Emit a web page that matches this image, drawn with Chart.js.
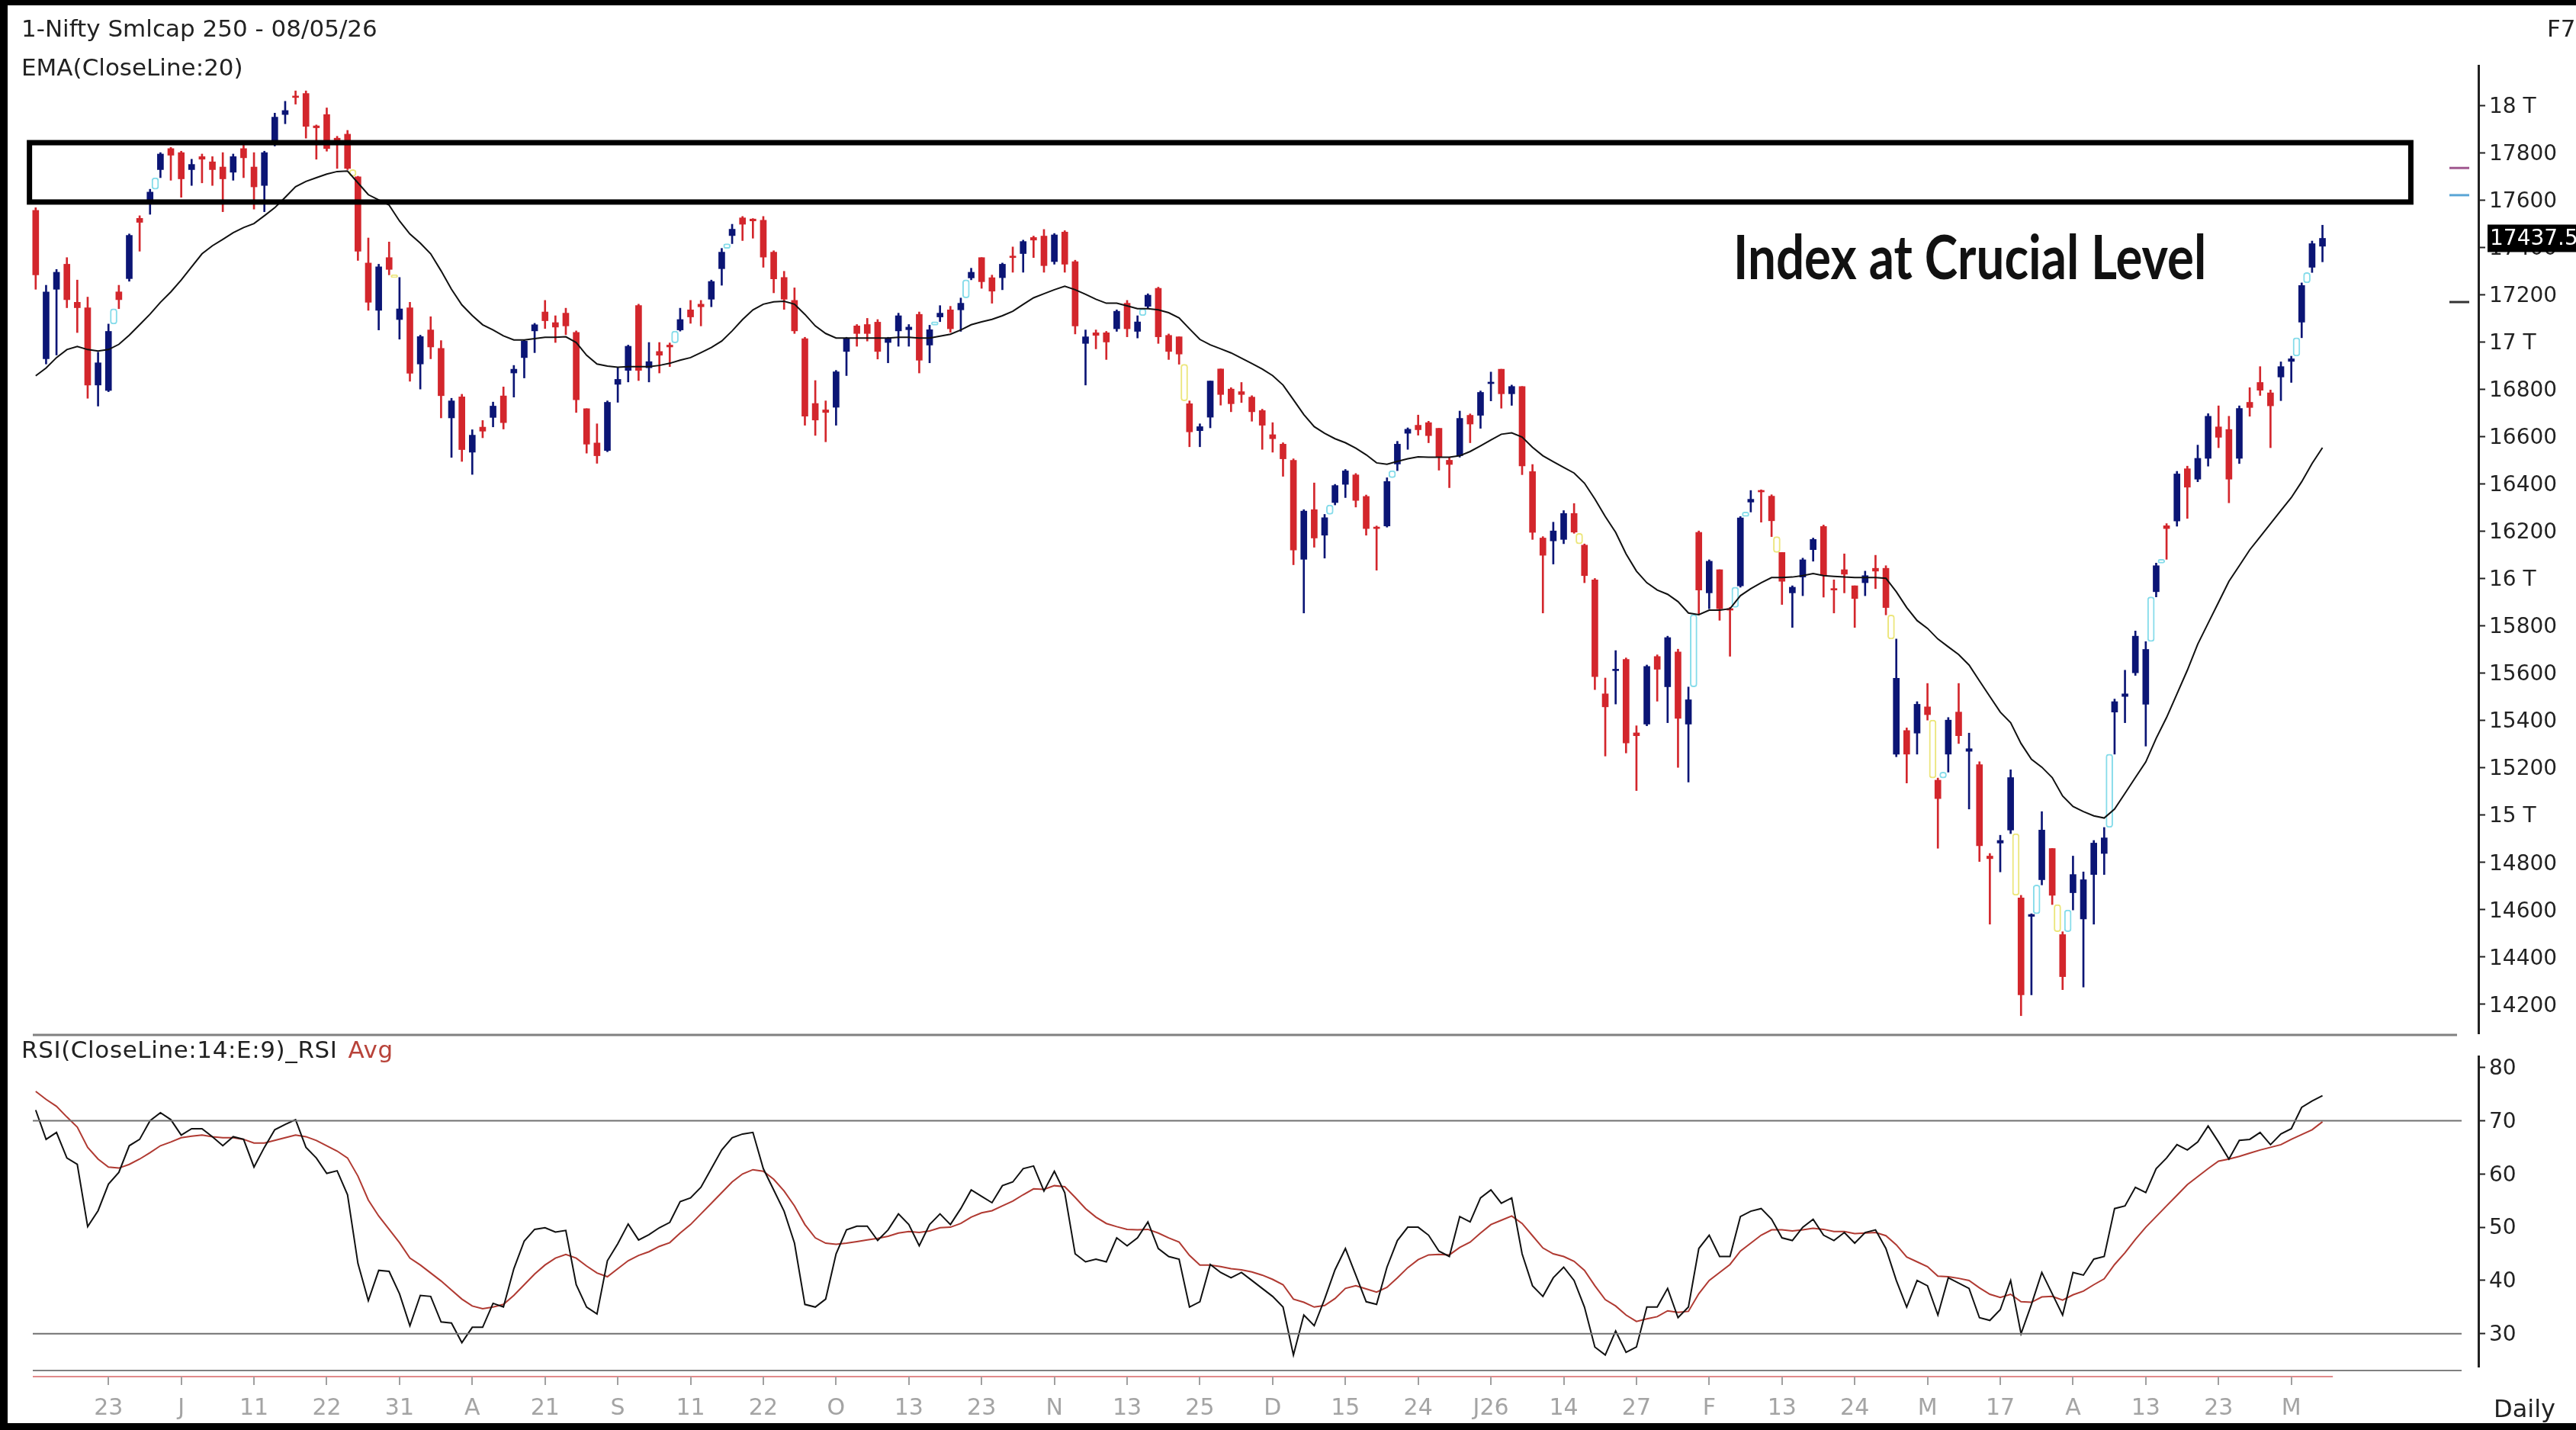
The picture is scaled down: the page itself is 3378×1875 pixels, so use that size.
<!DOCTYPE html>
<html>
<head>
<meta charset="utf-8">
<title>Nifty Smlcap 250 - Daily</title>
<script src="https://cdn.jsdelivr.net/npm/chart.js@4.4.1/dist/chart.umd.min.js"></script>
<style>
  html, body { margin: 0; padding: 0; background: #fff; }
  #wrap { position: relative; width: 3378px; height: 1875px; overflow: hidden; background: #fff; }
  #chart { position: absolute; left: 0; top: 0; }
  .lbl { position: absolute; font-family: 'DejaVu Sans', Verdana, sans-serif; font-size: 31px; line-height: 1; color: #222; white-space: nowrap; }
  #headline { font-family: Lato, 'Open Sans', sans-serif; font-weight: 700; font-size: 80px; color: #111; transform-origin: 0 0; }
</style>
</head>
<body>
<div id="wrap">
  <canvas id="chart" width="3378" height="1875"></canvas>
  <div class="lbl" style="left:28px;top:22px">1-Nifty Smlcap 250 - 08/05/26</div>
  <div class="lbl" style="left:28px;top:73px">EMA(CloseLine:20)</div>
  <div class="lbl" style="left:3340px;top:22px">F7</div>
  <div class="lbl" style="left:28px;top:1361px;letter-spacing:0.6px">RSI(CloseLine:14:E:9)_RSI<span style="color:#b8433a;margin-left:14px">Avg</span></div>
  <div class="lbl" style="left:3270px;top:1831px;font-size:32px">Daily</div>
  <div class="lbl" id="headline" style="left:2273px;top:295px">Index at Crucial Level</div>
</div>
<script>
// daily candles, one entry per trading session (Jun 2025 - May 2026)
const open = [
  17556,16928,17222,17328,17167,17144,16817,16794,17211,17267,17522,17600,17728,17817,17800,17728,17783,17761,17739,17717,
  17817,17739,17661,17844,17961,18039,18050,17913,17961,17861,17878,17698,17333,17133,17356,17094,17144,16906,17050,16972,
  16678,16767,16533,16639,16680,16771,16868,16933,17046,17126,17081,17121,17040,16717,16572,16540,16820,16879,17153,16890,
  16959,16986,17050,17135,17159,17180,17309,17449,17524,17519,17514,17379,17272,17175,17013,16739,16712,16723,16959,17067,
  17073,17083,16997,17046,17051,17116,16986,17105,17135,17135,17270,17356,17271,17271,17362,17373,17441,17447,17339,17464,
  17339,16993,17038,17038,17055,17163,17044,17150,17226,17027,17021,16738,16624,16681,16885,16800,16789,16766,16709,16607,
  16567,16499,16080,16290,16182,16320,16397,16437,16346,16216,16221,16483,16613,16647,16658,16634,16499,16518,16689,16689,
  16823,16884,16780,16811,16451,16170,16158,16164,16274,16140,15993,15511,15609,15657,15346,15383,15669,15541,15688,15383,
  16194,15938,16036,15871,15968,16322,16371,16347,16109,15938,16005,16121,16219,15956,16036,15968,15981,16042,16042,15256,
  15356,15345,15456,15146,15256,15434,15268,15212,14825,14880,14935,14648,14570,14725,14857,14493,14670,14559,14747,14836,
  15434,15500,15600,15467,15943,16222,16242,16463,16419,16507,16640,16629,16507,16744,16828,16784,16851,16917,17083,17315,
  17404
];
const high = [
  17567,17239,17306,17356,17261,17189,16956,17075,17239,17456,17533,17645,17800,17822,17806,17772,17794,17783,17800,17794,
  17833,17800,17806,17967,18017,18061,18061,17917,17989,17869,17894,17700,17439,17328,17422,17272,17167,17028,17106,17005,
  16761,16778,16628,16667,16745,16809,16900,17008,17078,17175,17110,17142,17046,16717,16653,16750,16890,16986,17159,16997,
  16997,16995,17142,17175,17175,17261,17395,17497,17530,17521,17530,17385,17298,17228,17019,16836,16750,16879,17019,17073,
  17099,17094,17019,17121,17073,17126,17070,17153,17150,17185,17311,17356,17282,17333,17401,17430,17447,17475,17458,17470,
  17345,17050,17050,17044,17135,17175,17110,17203,17231,17033,17021,16750,16653,16834,16885,16806,16828,16772,16715,16658,
  16573,16505,16290,16403,16270,16397,16460,16443,16352,16221,16425,16579,16636,16690,16664,16634,16512,16707,16695,16792,
  16872,16884,16817,16811,16481,16176,16237,16286,16316,16145,15999,15578,15694,15663,15376,15633,15676,15755,15700,15540,
  16200,16078,16036,15877,16261,16371,16374,16353,16109,15968,16085,16170,16225,15993,16103,15968,16030,16097,16053,15743,
  15367,15478,15555,15155,15411,15555,15345,15224,14836,14913,15190,14659,14581,15013,14857,14505,14825,14758,14891,14946,
  15489,15611,15777,15732,16064,16231,16452,16474,16563,16696,16729,16685,16729,16806,16895,16796,16915,16939,17249,17426,
  17493
];
const low = [
  17222,16906,16944,17144,17039,16761,16728,16789,17140,17256,17383,17539,17694,17683,17611,17661,17672,17661,17550,17683,
  17694,17561,17550,17828,17922,18005,17861,17772,17806,17733,17728,17344,17133,17050,17283,17011,16833,16800,16928,16678,
  16511,16494,16439,16594,16640,16631,16766,16847,16954,17056,16997,17030,16701,16529,16486,16535,16744,16830,16836,16830,
  16868,16895,17045,17078,17067,17148,17239,17415,17428,17438,17315,17207,17137,17035,16647,16604,16577,16647,16857,16981,
  17003,16927,16911,16981,16981,16868,16911,17085,17040,17044,17262,17226,17163,17220,17294,17294,17356,17294,17328,17294,
  17033,16817,16970,16925,17044,17021,17016,17140,16993,16925,16905,16556,16556,16636,16732,16704,16743,16664,16545,16533,
  16431,16057,15853,16131,16085,16310,16341,16301,16182,16034,16216,16455,16545,16605,16573,16457,16383,16512,16573,16634,
  16750,16719,16731,16438,16164,15853,16060,16146,16190,15981,15529,15248,15468,15261,15102,15376,15480,15389,15200,15138,
  15846,15871,15822,15670,15962,16280,16237,16176,15889,15792,15926,16072,15920,15853,15938,15792,15926,15956,15845,15245,
  15134,15256,15400,14858,15180,15301,15024,14802,14537,14758,14920,14150,14238,14703,14620,14260,14597,14271,14537,14747,
  15256,15389,15589,15290,15921,16080,16220,16253,16408,16474,16552,16319,16485,16685,16773,16552,16751,16828,17017,17293,
  17338
];
const close = [
  17283,17211,17294,17178,17144,16817,16911,17044,17178,17450,17505,17633,17794,17789,17689,17750,17772,17728,17689,17783,
  17778,17655,17800,17950,17978,18033,17911,17905,17817,17853,17733,17383,17167,17317,17306,17139,16867,17022,16978,16772,
  16750,16544,16605,16622,16728,16658,16884,17003,17072,17089,17062,17067,16755,16567,16518,16744,16841,16981,16879,16916,
  16943,16978,17094,17105,17148,17255,17379,17476,17497,17511,17358,17266,17180,17046,16685,16669,16701,16873,17013,17035,
  17035,16959,17013,17110,17062,16922,17051,17121,17055,17163,17294,17254,17214,17328,17356,17424,17430,17322,17452,17328,
  17067,17021,17027,16999,17129,17055,17084,17197,17021,16959,16948,16619,16641,16834,16777,16738,16777,16704,16647,16590,
  16505,16119,16284,16170,16256,16392,16454,16329,16210,16210,16409,16567,16630,16628,16603,16512,16481,16676,16652,16786,
  16829,16780,16811,16475,16194,16097,16200,16274,16195,16011,15584,15456,15615,15303,15334,15627,15615,15749,15407,15486,
  15950,16072,15871,15865,16255,16334,16365,16243,15987,15962,16078,16164,16011,15950,16017,15914,16011,16030,15876,15577,
  15256,15467,15423,15068,15400,15334,15279,14869,14814,14891,15157,14238,14578,14935,14659,14315,14747,14725,14880,14902,
  15478,15511,15755,15699,16053,16210,16441,16385,16507,16685,16596,16419,16718,16722,16795,16729,16895,16928,17238,17415,
  17437.5
];
const ema20 = [
  16856,16889,16933,16967,16980,16967,16961,16967,16989,17028,17072,17117,17167,17211,17261,17317,17372,17406,17433,17461,
  17483,17500,17533,17567,17611,17656,17678,17694,17709,17720,17722,17672,17622,17600,17578,17511,17456,17417,17372,17300,
  17222,17156,17111,17072,17050,17025,17008,17008,17013,17019,17019,17021,16997,16943,16906,16897,16892,16895,16895,16895,
  16900,16909,16922,16933,16954,16976,17003,17046,17094,17135,17159,17169,17171,17159,17116,17067,17035,17016,17016,17016,
  17016,17016,17016,17019,17019,17016,17016,17024,17032,17050,17072,17084,17095,17110,17129,17158,17186,17203,17220,17235,
  17220,17201,17180,17163,17163,17152,17140,17140,17135,17123,17101,17055,17010,16987,16970,16953,16931,16908,16885,16857,
  16817,16755,16692,16641,16613,16590,16573,16550,16522,16488,16482,16494,16505,16513,16512,16512,16512,16518,16536,16560,
  16585,16609,16615,16597,16554,16518,16493,16469,16445,16402,16335,16261,16194,16103,16030,15981,15950,15932,15901,15853,
  15846,15865,15865,15871,15926,15956,15981,16003,16003,16005,16011,16020,16011,16008,16005,16003,16003,16003,16000,15943,
  15876,15821,15788,15743,15710,15677,15633,15566,15500,15434,15389,15301,15234,15201,15157,15079,15035,15013,14995,14986,
  15024,15090,15157,15223,15323,15411,15511,15611,15721,15810,15898,15987,16053,16120,16175,16231,16286,16341,16408,16485,
  16552
];
const rsi = [
  72.0,66.5,67.8,63.0,61.8,50.1,53.1,58.1,60.3,65.3,66.5,70.0,71.5,70.2,67.3,68.5,68.5,67.0,65.3,67.0,
  66.5,61.3,65.0,68.3,69.3,70.2,65.0,63.0,60.1,60.6,56.1,43.2,36.2,41.9,41.7,37.5,31.5,37.2,37.0,32.2,
  32.0,28.3,31.2,31.2,35.7,35.0,42.2,47.4,49.6,49.9,49.1,49.4,39.2,35.0,33.7,43.7,46.9,50.6,47.6,48.6,
  49.9,50.9,54.8,55.5,57.5,61.0,64.5,66.8,67.5,67.8,61.0,57.0,53.0,47.0,35.5,35.0,36.5,45.0,49.5,50.2,
  50.2,47.5,49.5,52.5,50.5,46.5,50.5,52.5,50.5,53.5,57.0,55.8,54.6,57.8,58.5,61.0,61.5,56.8,60.5,56.5,
  45.0,43.5,44.0,43.5,48.0,46.5,48.0,51.0,46.0,44.5,44.0,35.0,36.0,43.0,41.5,40.5,41.5,40.0,38.5,37.0,
  35.0,26.0,33.5,31.5,36.5,42.0,46.0,41.0,36.0,35.5,42.5,47.5,50.0,50.0,48.5,45.5,44.5,52.0,51.0,55.5,
  57.0,54.5,55.5,45.0,39.0,37.0,40.5,42.5,40.0,35.0,27.5,26.0,30.5,26.5,27.5,35.0,35.0,38.5,33.0,35.0,
  46.0,48.5,44.5,44.5,52.0,53.0,53.5,51.5,48.0,47.5,50.0,51.5,48.5,47.5,49.0,47.0,49.0,49.5,46.0,40.0,
  35.0,40.0,39.0,33.5,40.5,39.5,38.5,33.0,32.5,34.5,40.0,30.0,35.5,41.5,37.5,33.5,41.5,41.0,44.0,44.5,
  53.5,54.0,57.5,56.5,61.0,63.0,65.5,64.5,66.0,69.0,66.0,62.8,66.3,66.5,67.8,65.5,67.5,68.5,72.5,73.7,
  74.7
];
const rsiAvg = [
  75.5,74.0,72.7,70.7,68.8,65.0,62.8,61.3,61.1,61.8,62.8,64.0,65.3,66.0,66.8,67.1,67.3,67.0,66.8,66.8,
  66.5,65.8,65.8,66.3,66.8,67.3,67.0,66.3,65.3,64.3,63.0,59.6,55.1,52.1,49.6,47.1,44.2,42.9,41.4,39.9,
  38.2,36.5,35.2,34.7,35.0,35.5,37.2,39.2,41.2,42.9,44.2,44.9,44.2,42.7,41.4,40.7,42.2,43.7,44.7,45.4,
  46.4,47.1,48.9,50.5,52.5,54.5,56.5,58.5,60.0,60.8,60.5,59.0,56.8,54.0,50.5,48.0,47.0,46.8,47.0,47.3,
  47.6,47.9,48.3,48.9,49.2,49.0,49.3,49.9,50.0,50.7,51.9,52.7,53.1,54.0,54.9,56.1,57.2,57.1,57.8,57.6,
  55.6,53.5,51.9,50.7,50.1,49.6,49.5,49.6,48.9,48.0,47.2,44.7,42.9,42.9,42.6,42.2,42.0,41.6,41.0,40.2,
  39.2,36.5,35.9,35.0,35.3,36.6,38.5,39.0,38.4,37.8,38.7,40.5,42.4,43.9,44.8,44.9,44.8,46.2,47.2,48.9,
  50.5,51.3,52.1,50.7,48.4,46.1,45.0,44.5,43.6,41.9,39.0,36.4,35.2,33.5,32.3,32.8,33.2,34.3,34.0,34.2,
  37.5,40.0,41.5,43.0,45.5,47.0,48.5,49.5,49.5,49.3,49.5,49.8,49.6,49.2,49.2,48.8,48.9,49.0,48.4,46.7,
  44.4,43.5,42.6,40.8,40.7,40.4,40.0,38.6,37.4,36.8,37.4,36.0,35.9,36.9,37.0,36.3,37.3,38.0,39.2,40.3,
  43.0,45.2,47.7,50.0,52.0,54.0,56.0,58.0,59.5,61.0,62.4,62.8,63.3,63.9,64.5,65.0,65.5,66.5,67.4,68.3,
  69.8
];
// sessions that opened with a gap (marker drawn between the two sessions)
const gapUp = [8, 12, 62, 67, 87, 90, 107, 125, 131, 160, 164, 165, 184, 193, 196, 200, 204, 205, 218, 219];
const gapDown = [31, 35, 111, 149, 168, 179, 183, 191, 195];

const tickLabels = ['23','J','11','22','31','A','21','S','11','22','O','13','23','N','13','25','D','15','24','J26','14','27','F','13','24','M','17','A','13','23','M'];
const priceTicks = [14200,14400,14600,14800,15000,15200,15400,15600,15800,16000,16200,16400,16600,16800,17000,17200,17400,17600,17800,18000];
const rsiTicks = [30, 40, 50, 60, 70, 80];
const rsiLevels = [70, 30];
const zone = { from: -0.6, to: 228.5, top: 17842, bottom: 17591 };
const sideMarks = [[17735, '#a0588f'], [17620, '#5aa5d6'], [17168, '#333333']];
const lastPrice = 17437.5;

const RED = '#d3262c', NAVY = '#0b1575', CYAN = '#86dcea', YELLOW = '#ece67c';
const tickBars = tickLabels.map((_, k) => 7 + 7 * k);
const bars = close.map((_, i) => i);
const isUp = i => close[i] >= open[i];
const candleColor = ctx => isUp(ctx.dataIndex) ? NAVY : RED;

const decor = {
  id: 'decor',
  afterDatasetsDraw(chart) {
    const { ctx, scales: { x, y } } = chart;
    const x0 = x.getPixelForValue(zone.from), x1 = x.getPixelForValue(zone.to);
    const y0 = y.getPixelForValue(zone.top), y1 = y.getPixelForValue(zone.bottom);
    ctx.save();
    ctx.strokeStyle = '#000';
    ctx.lineWidth = 7;
    ctx.strokeRect(x0, y0, x1 - x0, y1 - y0);
    ctx.restore();
  },
  afterDraw(chart) {
    const { ctx, scales: { x, y, yRsi } } = chart;
    const W = chart.width, H = chart.height;
    const left = 43;
    ctx.save();
    const hline = (yy, x0, x1, color, w) => {
      ctx.strokeStyle = color; ctx.lineWidth = w;
      ctx.beginPath(); ctx.moveTo(x0, yy); ctx.lineTo(x1, yy); ctx.stroke();
    };
    // panel separator and RSI levels
    hline(y.bottom + 2, left, 3222, '#808080', 3);
    rsiLevels.forEach(v => hline(yRsi.getPixelForValue(v), left, 3228, '#707070', 2));
    hline(yRsi.bottom + 5, left, 3228, '#808080', 2);
    hline(yRsi.bottom + 13, left, x.getPixelForValue(221), '#e08a8a', 2);
    // date ticks
    ctx.strokeStyle = '#a0a0a0'; ctx.lineWidth = 2;
    tickBars.forEach(b => {
      const px = Math.round(x.getPixelForValue(b));
      ctx.beginPath(); ctx.moveTo(px, yRsi.bottom + 13); ctx.lineTo(px, yRsi.bottom + 24); ctx.stroke();
    });
    // small level marks left of price axis
    sideMarks.forEach(([v, c]) => hline(y.getPixelForValue(v), 3212, 3238, c, 3));
    // last price tag
    const ly = y.getPixelForValue(lastPrice);
    ctx.fillStyle = '#000';
    ctx.fillRect(3262, ly - 18, W - 3262, 36);
    ctx.fillStyle = '#fff';
    ctx.font = '28px "DejaVu Sans"';
    ctx.textBaseline = 'middle';
    ctx.fillText(String(lastPrice), 3265, ly + 1);
    // frame
    ctx.fillStyle = '#000';
    ctx.fillRect(0, 0, W, 7);
    ctx.fillRect(0, 0, 10, H);
    ctx.fillRect(0, H - 9, W, 9);
    ctx.restore();
  }
};

Chart.defaults.font.family = '"DejaVu Sans", Verdana, sans-serif';

new Chart(document.getElementById('chart'), {
  type: 'bar',
  data: {
    datasets: [
      {
        type: 'line', label: 'EMA 20', yAxisID: 'y', order: 1,
        data: bars.map(i => ({ x: i, y: ema20[i] })),
        borderColor: '#111', borderWidth: 2, pointRadius: 0, tension: 0
      },
      {
        label: 'wick', yAxisID: 'y', order: 4, grouped: false,
        data: bars.map(i => ({ x: i, y: [low[i], high[i]] })),
        backgroundColor: candleColor, barThickness: 2
      },
      {
        label: 'body', yAxisID: 'y', order: 3, grouped: false,
        data: bars.map(i => ({ x: i, y: [open[i], close[i]] })),
        backgroundColor: candleColor, barThickness: 8, minBarLength: 2
      },
      {
        label: 'gap up', yAxisID: 'y', order: 2, grouped: false,
        data: gapUp.map(i => ({ x: i - 0.5, y: [high[i - 1], low[i]] })),
        backgroundColor: '#fff', borderColor: CYAN, borderWidth: 2, borderRadius: 4,
        borderSkipped: false, barThickness: 9
      },
      {
        label: 'gap down', yAxisID: 'y', order: 2, grouped: false,
        data: gapDown.map(i => ({ x: i - 0.5, y: [high[i], low[i - 1]] })),
        backgroundColor: '#fff', borderColor: YELLOW, borderWidth: 2, borderRadius: 4,
        borderSkipped: false, barThickness: 9
      },
      {
        type: 'line', label: 'RSI Avg', yAxisID: 'yRsi', order: 1,
        data: bars.map(i => ({ x: i, y: rsiAvg[i] })),
        borderColor: '#b03a32', borderWidth: 2, pointRadius: 0, tension: 0
      },
      {
        type: 'line', label: 'RSI', yAxisID: 'yRsi', order: 0,
        data: bars.map(i => ({ x: i, y: rsi[i] })),
        borderColor: '#111', borderWidth: 2, pointRadius: 0, tension: 0
      }
    ]
  },
  options: {
    responsive: false,
    animation: false,
    devicePixelRatio: 1,
    layout: { padding: { top: 86, left: 40, right: 0, bottom: 8 } },
    plugins: { legend: { display: false }, tooltip: { enabled: false } },
    scales: {
      x: {
        type: 'linear', min: -0.5, max: 235, offset: false,
        grid: { display: false, drawTicks: false },
        border: { display: false },
        afterBuildTicks: s => { s.ticks = tickBars.map(v => ({ value: v })); },
        afterFit: s => { s.height = 75; },
        ticks: {
          autoSkip: false, maxRotation: 0, padding: 37,
          color: '#a4a4a4', font: { size: 30 },
          callback: (v, idx) => tickLabels[idx]
        }
      },
      y: {
        type: 'linear', position: 'right', stack: 'panes', stackWeight: 1269,
        min: 14075, max: 18168,
        grid: { drawOnChartArea: false, drawTicks: true, tickLength: 9, tickColor: '#222', tickWidth: 2 },
        border: { display: true, color: '#222', width: 3 },
        afterBuildTicks: s => { s.ticks = priceTicks.map(v => ({ value: v })); },
        afterFit: s => { s.width = 128; },
        ticks: {
          autoSkip: false, padding: 5, labelOffset: 3, color: '#222', font: { size: 28 },
          callback: v => (v % 1000 === 0 ? (v / 1000) + ' T' : String(v))
        }
      },
      yGap: {
        type: 'linear', position: 'right', stack: 'panes', stackWeight: 30,
        grid: { display: false }, border: { display: false },
        ticks: { display: false },
        afterFit: s => { s.width = 128; }
      },
      yRsi: {
        type: 'linear', position: 'right', stack: 'panes', stackWeight: 407,
        min: 23.8, max: 82.1,
        grid: { drawOnChartArea: false, drawTicks: true, tickLength: 9, tickColor: '#222', tickWidth: 2 },
        border: { display: true, color: '#222', width: 3 },
        afterBuildTicks: s => { s.ticks = rsiTicks.map(v => ({ value: v })); },
        afterFit: s => { s.width = 128; },
        ticks: { autoSkip: false, padding: 5, labelOffset: 2, color: '#222', font: { size: 28 } }
      }
    }
  },
  plugins: [decor]
});

// squeeze the bold headline to the width it has in the picture
const head = document.getElementById('headline');
head.style.transform = 'scaleX(' + (620 / head.offsetWidth) + ')';
</script>
</body>
</html>
